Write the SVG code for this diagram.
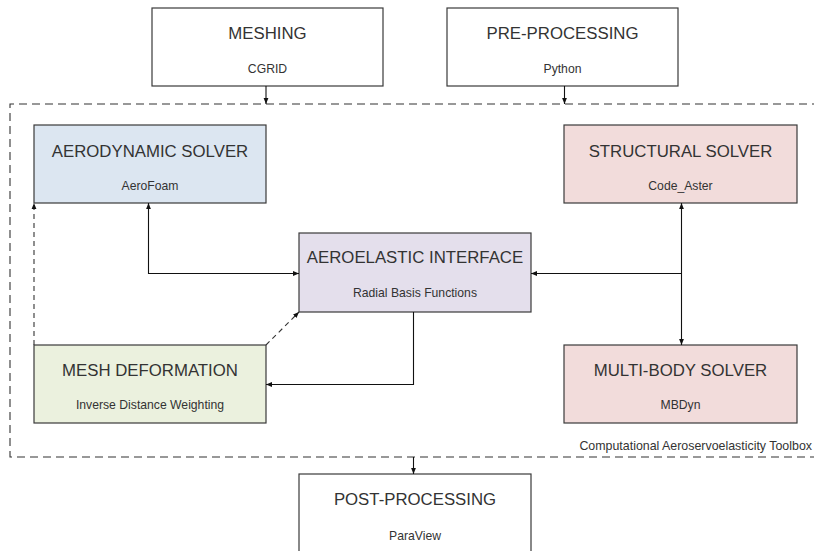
<svg xmlns="http://www.w3.org/2000/svg" width="814" height="551" viewBox="0 0 814 551">
<style>
.box{stroke:#3a3a3a;stroke-width:1.2}
.t{font-family:"Liberation Sans",Arial,sans-serif;font-size:16.8px;fill:#333;text-anchor:middle}
.s{font-family:"Liberation Sans",Arial,sans-serif;font-size:12.2px;fill:#333;text-anchor:middle}
.c{fill:none;stroke:#111;stroke-width:1.1}
.d{fill:none;stroke:#333;stroke-width:1.1;stroke-dasharray:5,4}
</style>
<defs>
<marker id="ah" viewBox="0 0 10 10" refX="10" refY="5" markerWidth="6" markerHeight="6" markerUnits="userSpaceOnUse" orient="auto-start-reverse">
<path d="M0,1 L10,5 L0,9 z" fill="#111"/>
</marker>
</defs>
<g id="frame">
<path d="M820,104 H10 V457 H820" fill="none" stroke="#333" stroke-width="1.1" stroke-dasharray="8,5"/>
<text x="812" y="450" style="font-family:'Liberation Sans',Arial,sans-serif;font-size:12.4px;fill:#333;text-anchor:end">Computational Aeroservoelasticity Toolbox</text>
</g>
<g id="meshing">
<rect class="box" x="152" y="8" width="231" height="78" fill="#fff"/>
<text class="t" x="267.5" y="39">MESHING</text>
<text class="s" x="267.5" y="73">CGRID</text>
</g>
<g id="preprocessing">
<rect class="box" x="447" y="8" width="231" height="78" fill="#fff"/>
<text class="t" x="562.5" y="39">PRE-PROCESSING</text>
<text class="s" x="562.5" y="73">Python</text>
</g>
<g id="aerodynamic">
<rect class="box" x="34" y="125" width="232" height="78" fill="#dce6f1"/>
<text class="t" x="150" y="157">AERODYNAMIC SOLVER</text>
<text class="s" x="150" y="190">AeroFoam</text>
</g>
<g id="structural">
<rect class="box" x="564" y="125" width="233" height="78" fill="#f2dcdb"/>
<text class="t" x="680.5" y="157">STRUCTURAL SOLVER</text>
<text class="s" x="680.5" y="190">Code_Aster</text>
</g>
<g id="interface">
<rect class="box" x="299" y="233" width="232" height="79" fill="#e4dfec"/>
<text class="t" x="415" y="263">AEROELASTIC INTERFACE</text>
<text class="s" x="415" y="297">Radial Basis Functions</text>
</g>
<g id="meshdeformation">
<rect class="box" x="34" y="345" width="232" height="78" fill="#ebf1de"/>
<text class="t" x="150" y="376">MESH DEFORMATION</text>
<text class="s" x="150" y="409">Inverse Distance Weighting</text>
</g>
<g id="multibody">
<rect class="box" x="564" y="345" width="233" height="78" fill="#f2dcdb"/>
<text class="t" x="680.5" y="376">MULTI-BODY SOLVER</text>
<text class="s" x="680.5" y="409">MBDyn</text>
</g>
<g id="postprocessing">
<rect class="box" x="299" y="474" width="232" height="90" fill="#fff"/>
<text class="t" x="415" y="505">POST-PROCESSING</text>
<text class="s" x="415" y="540">ParaView</text>
</g>
<g id="connectors">
<path class="c" d="M266,86 V104" marker-end="url(#ah)"/>
<path class="c" d="M564.5,86 V104" marker-end="url(#ah)"/>
<path class="c" d="M413.5,457 V474" marker-end="url(#ah)"/>
<path class="c" d="M148.5,203 V273.5 H299" marker-start="url(#ah)" marker-end="url(#ah)"/>
<path class="c" d="M681.5,273.5 H531" marker-end="url(#ah)"/>
<path class="c" d="M681.5,203 V345" marker-start="url(#ah)" marker-end="url(#ah)"/>
<path class="c" d="M413.5,312 V384.5 H266" marker-end="url(#ah)"/>
<path class="d" d="M266,345 L299,312" marker-end="url(#ah)"/>
<path class="d" d="M34,345 V203" marker-end="url(#ah)"/>
</g>
</svg>
